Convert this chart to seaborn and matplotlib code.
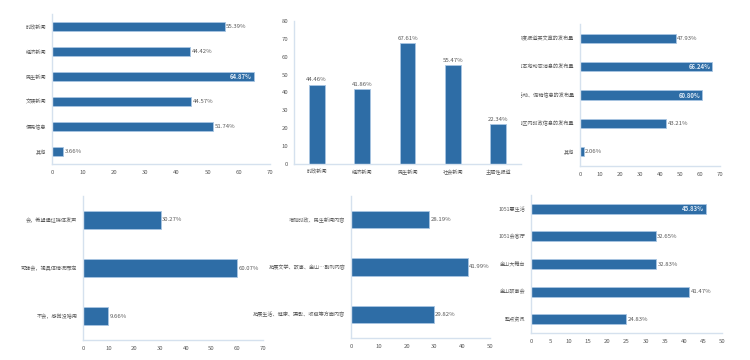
import matplotlib
matplotlib.use("Agg")
import matplotlib.pyplot as plt
import seaborn as sns

sns.set_style("white")
plt.rcParams['font.family'] = ['Noto Sans CJK SC', 'DejaVu Sans']

# datos de cada grafico
cat1 = ["时政新闻", "经济新闻", "民生新闻", "文娱新闻", "便民信息", "其他"]
val1 = [55.39, 44.42, 64.87, 44.57, 51.74, 3.66]

cat2 = ["时政新闻", "经济新闻", "民生新闻", "社会新闻", "主题性报道"]
val2 = [44.46, 41.86, 67.61, 55.47, 22.34]

cat3 = ["增加评论类以及深度报道类文章的发布量", "增加本地动态消息的发布量",
        "增加各类优惠活动、促销信息的发布量", "增加区内时政信息的发布量", "其他"]
val3 = [47.93, 66.24, 60.80, 43.21, 2.06]

cat4 = ["会，希望通过媒体发声", "可能会，视具体情况而定", "不会，感觉没啥用"]
val4 = [30.27, 60.07, 9.66]

cat5 = ["增加时政、民生新闻内容", "拓展文学、故事、金山…副刊内容",
        "拓展生活、健康、摄影、收藏等方面内容"]
val5 = [28.19, 41.99, 29.82]

cat6 = ["1051惠生活", "1051会客厅", "金山大舞台", "金山故事会", "整点资讯"]
val6 = [45.83, 32.65, 32.83, 41.47, 24.83]

AZUL = "#2E6DA6"
BORDE = "#A8C5E2"
EJE = "#D5E1EE"
GRIS = "#595959"

W, H = 750, 360
fig = plt.figure(figsize=(7.5, 3.6), dpi=100)


def caja(l, r, t, b):
    return [l / W, 1 - b / H, (r - l) / W, (b - t) / H]


def estilo(ax):
    for s in ["top", "right"]:
        ax.spines[s].set_visible(False)
    for s in ["left", "bottom"]:
        ax.spines[s].set_color(EJE)
        ax.spines[s].set_linewidth(1.0)
    ax.tick_params(axis="both", length=0, colors=GRIS, labelsize=4.3, pad=4)
    ax.set_xlabel("")
    ax.set_ylabel("")


def horizontal(rect, cats, vals, xmax, paso, dentro=(), ancho=0.36):
    ax = fig.add_axes(caja(*rect))
    sns.barplot(x=vals, y=cats, ax=ax, color=AZUL, orient="h", width=ancho,
                edgecolor=BORDE, linewidth=0.6, saturation=1)
    ax.set_xlim(0, xmax)
    ax.set_xticks(range(0, xmax + 1, paso))
    estilo(ax)
    for lab in ax.get_yticklabels():
        lab.set_fontsize(3.7)
    for i, v in enumerate(vals):
        if i in dentro:
            ax.text(v - xmax * 0.01, i, f"{v:.2f}%", ha="right", va="center",
                    fontsize=4.3, color="#DCE8F4", fontweight="bold")
        else:
            ax.text(v + xmax * 0.008, i, f"{v:.2f}%", ha="left", va="center",
                    fontsize=4.3, color=GRIS)
    return ax


horizontal((52, 270, 14.5, 164.5), cat1, val1, 70, 10, dentro=(2,))
horizontal((580, 720, 24, 166), cat3, val3, 70, 10, dentro=(1, 2), ancho=0.33)
horizontal((83, 263, 196, 340), cat4, val4, 70, 10)
horizontal((351, 490, 196, 338), cat5, val5, 50, 10)
horizontal((531, 722, 195, 333), cat6, val6, 50, 5, dentro=(0,))

# grafico de columnas
ax2 = fig.add_axes(caja(294, 521, 21, 164))
sns.barplot(x=cat2, y=val2, ax=ax2, color=AZUL, width=0.35,
            edgecolor=BORDE, linewidth=0.6, saturation=1)
ax2.set_ylim(0, 80)
ax2.set_yticks(range(0, 81, 10))
estilo(ax2)
for lab in ax2.get_xticklabels():
    lab.set_fontsize(3.7)
for i, v in enumerate(val2):
    ax2.text(i, v + 1.2, f"{v:.2f}%", ha="center", va="bottom",
             fontsize=4.3, color=GRIS)

fig.savefig("out.png", dpi=100, facecolor="white")
